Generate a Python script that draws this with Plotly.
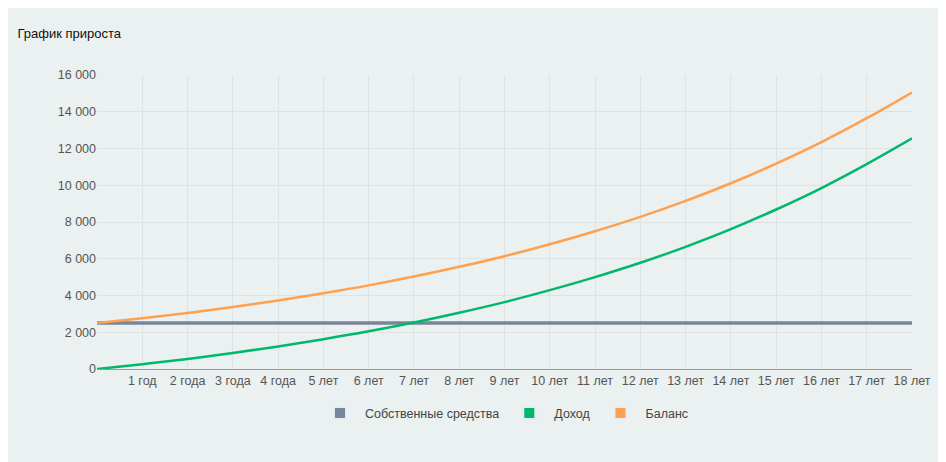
import plotly.graph_objects as go

years = list(range(19))
labels = ["", "1 год", "2 года", "3 года", "4 года", "5 лет", "6 лет", "7 лет", "8 лет", "9 лет",
          "10 лет", "11 лет", "12 лет", "13 лет", "14 лет", "15 лет", "16 лет", "17 лет", "18 лет"]
own = [2500] * 19
balance = [2500, 2760, 3050, 3370, 3730, 4120, 4550, 5030, 5560, 6140, 6790, 7500, 8280,
           9150, 10110, 11180, 12350, 13650, 15050]
income = [b - o for b, o in zip(balance, own)]

names = ["Собственные средства", "Доход", "Баланс"]
colors = ["#78859a", "#00b86b", "#ffa04f"]
series = [own, income, balance]

fig = go.Figure()
for n, c, s in zip(names, colors, series):
    fig.add_trace(go.Scatter(x=years, y=s, mode="lines", name=n, showlegend=False,
                             line=dict(color=c, width=3.5 if n == names[0] else 2.5, shape="spline")))
for n, c in zip(names, colors):
    fig.add_trace(go.Bar(x=[None], y=[None], name=n, marker_color=c))

fig.update_layout(
    width=946, height=462, paper_bgcolor="#ebf0f0", plot_bgcolor="#ebf0f0",
    margin=dict(l=89, r=42, t=67, b=101),
    font=dict(family="Liberation Sans, Arial, sans-serif", size=12.5, color="#555"),
    title=dict(text="График прироста", x=0.01, y=0.955, xanchor="left",
               font=dict(size=13, color="#111")),
    legend=dict(orientation="h", x=0.5, xanchor="center", y=-0.1, yanchor="top",
                font=dict(size=12.5, color="#444"), itemsizing="constant", itemwidth=40),
    xaxis=dict(tickmode="array", tickvals=years, ticktext=labels, range=[0, 18],
               showgrid=True, gridcolor="#dde3e3", zeroline=False,
               showline=True, linecolor="#999", ticks=""),
    yaxis=dict(range=[0, 16000], dtick=2000, tickformat=",d", separatethousands=True,
               showgrid=True, gridcolor="#dde3e3", zeroline=False, ticks=""),
    separators=". ",
)
fig.write_html("out.html")
